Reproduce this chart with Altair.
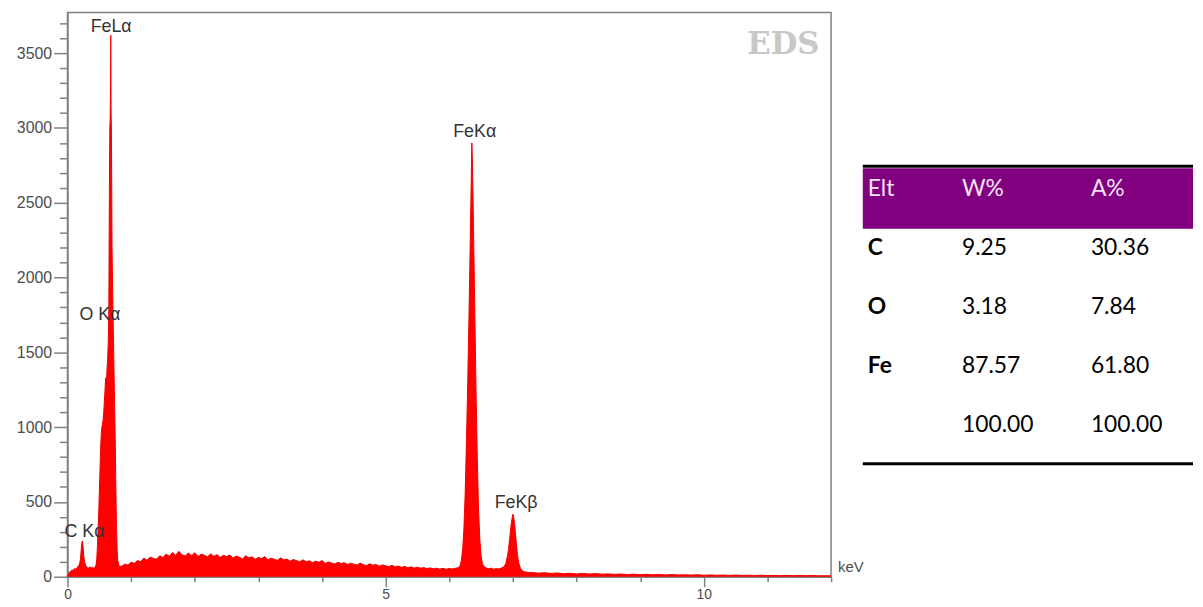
import altair as alt
import pandas as pd

# ---------------- spectrum ----------------
energy_kev = [
    0.00, 0.01, 0.03, 0.05, 0.07, 0.09, 0.11, 0.13, 0.15, 0.17, 0.19, 0.205, 0.215, 0.225, 0.235, 0.245,
    0.255, 0.27, 0.29, 0.31, 0.33, 0.35, 0.37, 0.39, 0.41, 0.43, 0.45, 0.46, 0.47, 0.48, 0.49, 0.50,
    0.51, 0.52, 0.53, 0.54, 0.55, 0.56, 0.57, 0.58, 0.59, 0.60, 0.605, 0.61, 0.62, 0.63, 0.64, 0.65,
    0.655, 0.66, 0.665, 0.67, 0.675, 0.68, 0.685, 0.69, 0.695, 0.70, 0.71, 0.72, 0.73, 0.74, 0.75, 0.76,
    0.77, 0.78, 0.79, 0.81,
    0.85, 0.90, 0.95, 1.00, 1.05, 1.10, 1.15, 1.20, 1.25, 1.30, 1.35, 1.40, 1.45, 1.50, 1.55, 1.60,
    1.65, 1.70, 1.75, 1.80, 1.85, 1.90, 1.95, 2.00, 2.05, 2.10, 2.15, 2.20, 2.25, 2.30, 2.35, 2.40,
    2.45, 2.50, 2.55, 2.60, 2.65, 2.70, 2.75, 2.80, 2.85, 2.90, 2.95, 3.00, 3.05, 3.10, 3.15, 3.20,
    3.25, 3.30, 3.35, 3.40, 3.45, 3.50, 3.55, 3.60, 3.65, 3.70, 3.75, 3.80, 3.85, 3.90, 3.95, 4.00,
    4.05, 4.10, 4.15, 4.20, 4.25, 4.30, 4.35, 4.40, 4.45, 4.50, 4.55, 4.60, 4.65, 4.70, 4.75, 4.80,
    4.85, 4.90, 4.95, 5.00, 5.05, 5.10, 5.15, 5.20, 5.25, 5.30, 5.35, 5.40, 5.45, 5.50, 5.55, 5.60,
    5.65, 5.70, 5.75, 5.80, 5.85, 5.90, 5.95, 6.00, 6.05, 6.10,
    6.14, 6.17, 6.19, 6.21, 6.23, 6.25, 6.27, 6.29, 6.31, 6.33, 6.345, 6.355, 6.365, 6.38, 6.40, 6.42,
    6.44, 6.46, 6.48, 6.50, 6.52, 6.54, 6.58, 6.62, 6.66, 6.70, 6.74, 6.78, 6.82, 6.86, 6.89,
    6.91, 6.93, 6.95, 6.97, 6.99, 7.00, 7.01, 7.03, 7.05, 7.07, 7.09, 7.12, 7.15, 7.19, 7.24,
    7.3, 7.4, 7.5, 7.6, 7.7, 7.8, 7.9, 8.0, 8.1, 8.2, 8.3, 8.4, 8.5, 8.6, 8.7, 8.8,
    8.9, 9.0, 9.1, 9.2, 9.3, 9.4, 9.5, 9.6, 9.7, 9.8, 9.9, 10.0, 10.1, 10.2, 10.3, 10.4,
    10.5, 10.6, 10.7, 10.8, 10.9, 11.0, 11.1, 11.2, 11.3, 11.4, 11.5, 11.6, 11.7, 11.8, 11.9, 12.0,
]
counts = [
    0, 15, 28, 38, 45, 42, 55, 50, 62, 70, 85, 120, 180, 225, 239, 200,
    140, 95, 72, 62, 58, 66, 57, 64, 58, 60, 80, 120, 200, 310, 420, 560,
    700, 850, 950, 1000, 1020, 1050, 1100, 1180, 1250, 1330, 1150, 1250, 1380, 1450, 1550, 1800,
    2300, 2700, 3000, 3050, 3220, 3620, 3100, 3000, 2600, 2200, 1900, 1650, 1400, 1150, 920, 600,
    330, 180, 110, 70,
    70, 84, 78, 96, 90, 108, 101, 124, 110, 131, 122, 118, 140, 128, 151, 137,
    162, 143, 170, 146, 139, 158, 141, 160, 136, 150, 144, 133, 152, 137, 147, 129,
    143, 135, 146, 124, 138, 131, 119, 140, 126, 133, 117, 129, 121, 135, 113, 124,
    117, 109, 126, 112, 118, 104, 115, 108, 99, 113, 101, 106, 94, 104, 97, 108,
    89, 99, 92, 85, 96, 88, 94, 81, 90, 84, 78, 91, 80, 75, 86, 77,
    82, 70, 79, 73, 68, 76, 66, 71, 63, 69, 60, 66, 58, 64, 57, 61,
    54, 59, 53, 57, 51, 56, 50, 55, 52, 57,
    60, 75, 110, 180, 320, 560, 900, 1300, 1750, 2250, 2650, 2900, 2750, 2350, 1800, 1250,
    800, 450, 250, 140, 90, 70, 58, 54, 57, 50, 55, 52, 58, 66, 90,
    130, 180, 260, 340, 400, 418, 405, 340, 240, 150, 95, 55, 38, 32, 28,
    28, 24, 27, 22, 25, 20, 23, 19, 22, 18, 21, 17, 19, 16, 18, 15,
    17, 14, 16, 13, 15, 12, 14, 12, 13, 11, 13, 10, 12, 10, 11, 9,
    11, 9, 10, 8, 10, 8, 9, 7, 9, 7, 8, 7, 8, 6, 7, 6,
]

# peak annotations
peak_labels = ["FeLα", "FeKα", "FeKβ"]
peak_label_kev = [0.686, 6.40, 7.05]
peak_label_counts = [3672, 2976, 490]

side_labels = ["O Kα", "C Kα"]
side_label_kev = [0.187, -0.047]
side_label_counts = [1750, 298]

badge_text = ["EDS"]
badge_kev = [11.25]
badge_counts = [3553]

unit_text = ["keV"]
unit_kev = [12.11]
unit_counts = [62]

# composition table
table_rows = ["header", "C", "O", "Fe", "total"]
col_elt = ["Elt", "C", "O", "Fe", ""]
col_w = ["W%", "9.25", "3.18", "87.57", "100.00"]
col_a = ["A%", "30.36", "7.84", "61.80", "100.00"]

# axis ticks
x_ticks = list(range(0, 13))
y_ticks = list(range(0, 3701, 100))

# ---------------- chart ----------------
GRAY = "#808080"
LABEL = "#4d4d4d"
FONT = "Liberation Sans"

x_scale = alt.Scale(domain=[0, 12], nice=False, zero=False)
y_scale = alt.Scale(domain=[0, 3772], nice=False, zero=True)

x_axis = alt.Axis(
    values=x_ticks,
    labelExpr="datum.value % 5 === 0 ? datum.label : ''",
    tickSize={"condition": {"test": "datum.value % 5 === 0", "value": 10}, "value": 5},
    labelPadding=1,
    labelFlush=False,
    labelOverlap=False,
    labelFontSize=14,
    format="d",
    title=None,
    grid=False,
)
y_axis = alt.Axis(
    values=y_ticks,
    labelExpr="datum.value % 500 === 0 ? datum.label : ''",
    tickSize={"condition": {"test": "datum.value % 500 === 0", "value": 14}, "value": 8},
    labelPadding=2,
    labelOverlap=False,
    labelFontSize=16,
    minExtent=56,
    format="d",
    title=None,
    grid=False,
)

X = alt.X("keV:Q", scale=x_scale, axis=x_axis)
Y = alt.Y("counts:Q", scale=y_scale, axis=y_axis)

spec_df = pd.DataFrame({"keV": energy_kev, "counts": counts})
area = alt.Chart(spec_df).mark_area(
    color="#ff0000", opacity=1, line={"color": "#f00000", "strokeWidth": 1}
).encode(x=X, y=Y)

peak_df = pd.DataFrame({"t": peak_labels, "keV": peak_label_kev, "counts": peak_label_counts})
peak_text = alt.Chart(peak_df).mark_text(
    font=FONT, fontSize=18, color="#333333", align="center", baseline="middle"
).encode(x=X, y=Y, text="t:N")

side_df = pd.DataFrame({"t": side_labels, "keV": side_label_kev, "counts": side_label_counts})
side_text = alt.Chart(side_df).mark_text(
    font=FONT, fontSize=18, color="#333333", align="left", baseline="middle"
).encode(x=X, y=Y, text="t:N")

badge_df = pd.DataFrame({"t": badge_text, "keV": badge_kev, "counts": badge_counts})
badge = alt.Chart(badge_df).mark_text(
    font="DejaVu Serif", fontSize=31, fontWeight="bold", color="#c8c8c8",
    align="center", baseline="middle"
).encode(x=X, y=Y, text="t:N")

unit_df = pd.DataFrame({"t": unit_text, "keV": unit_kev, "counts": unit_counts})
unit = alt.Chart(unit_df).mark_text(
    font=FONT, fontSize=15, color=LABEL, align="left", baseline="middle"
).encode(x=X, y=Y, text="t:N")

spectrum = alt.layer(area, peak_text, side_text, badge, unit)

# table
tbl_df = pd.DataFrame({"row": table_rows, "elt": col_elt, "w": col_w, "a": col_a})
row_scale = alt.Scale(type="point", domain=table_rows, range=[178, 416], padding=0)
one = alt.Data(values=[{}])

band = alt.Chart(one).mark_rect(color="#800080").encode(
    x=alt.value(802), x2=alt.value(1135), y=alt.value(157), y2=alt.value(218)
)
top_rule = alt.Chart(one).mark_rule(color="#000000", strokeWidth=3).encode(
    x=alt.value(802), x2=alt.value(1135), y=alt.value(155)
)
bottom_rule = alt.Chart(one).mark_rule(color="#000000", strokeWidth=3).encode(
    x=alt.value(802), x2=alt.value(1135), y=alt.value(455)
)

HEAD = "#f3e3f3"
TFONT = "Lato"
TSIZE = 23


def col_layer(field, xpx, bold_body=False):
    head = alt.Chart(tbl_df).transform_filter(alt.datum.row == "header").mark_text(
        font=TFONT, fontSize=TSIZE, align="left", baseline="middle", color=HEAD
    ).encode(x=alt.value(xpx), y=alt.Y("row:N", scale=row_scale, axis=None), text=f"{field}:N")
    body = alt.Chart(tbl_df).transform_filter(alt.datum.row != "header").mark_text(
        font=TFONT, fontSize=TSIZE, align="left", baseline="middle", color="#000000",
        fontWeight="bold" if bold_body else "normal"
    ).encode(x=alt.value(xpx), y=alt.Y("row:N", scale=row_scale, axis=None), text=f"{field}:N")
    return [head, body]


table = alt.layer(
    band, top_rule, bottom_rule,
    *col_layer("elt", 807, bold_body=True),
    *col_layer("w", 902),
    *col_layer("a", 1032),
)

chart = alt.layer(spectrum, table).resolve_scale(y="independent").properties(
    width=770,
    height=569,
    padding={"left": 4, "top": 2, "right": 0, "bottom": 0},
    background="white",
).configure_view(
    stroke=GRAY, strokeWidth=1.5
).configure_axis(
    domainColor=GRAY, domainWidth=1.5, tickColor=GRAY, tickWidth=1.5,
    labelColor=LABEL, labelFont=FONT,
)

chart.save("out.html", embed_options={"renderer": "svg", "actions": False})
